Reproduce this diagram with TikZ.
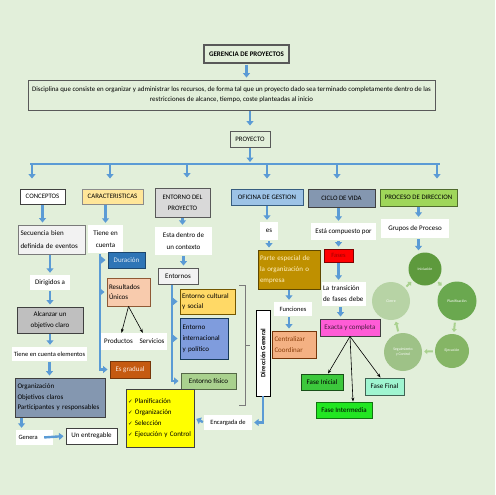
\documentclass[tikz,border=0pt]{standalone}
\usepackage{fontspec}
\setmainfont{Carlito}
\newfontfamily\checkfont{DejaVu Sans}
\usetikzlibrary{arrows.meta}

\definecolor{paper}{HTML}{E2EFDA}
\definecolor{flowblue}{HTML}{5B9BD5}
\definecolor{edge}{HTML}{595959}
\definecolor{darkedge}{HTML}{404040}
\definecolor{cLight}{HTML}{F2F2F2}
\definecolor{cMidgray}{HTML}{BFBFBF}
\definecolor{cSlate}{HTML}{8497B0}
\definecolor{cCream}{HTML}{FFE699}
\definecolor{cSilver}{HTML}{D9D9D9}
\definecolor{cSky}{HTML}{9DC3E6}
\definecolor{cLime}{HTML}{9FD65A}
\definecolor{cNavy}{HTML}{2E75B6}
\definecolor{cPeach}{HTML}{F8CBAD}
\definecolor{cRust}{HTML}{C55A11}
\definecolor{cGold}{HTML}{FFD966}
\definecolor{cCobalt}{HTML}{7F9CDD}
\definecolor{cSage}{HTML}{A9D18E}
\definecolor{cOchre}{HTML}{BF9000}
\definecolor{cApricot}{HTML}{F4B183}
\definecolor{cMagenta}{HTML}{FF5CD6}
\definecolor{cGreen}{HTML}{3CC83C}
\definecolor{cBright}{HTML}{22E622}
\definecolor{cAqua}{HTML}{9FF5D0}
\definecolor{cYellow}{HTML}{FFFF00}
\definecolor{cIni}{HTML}{5E9A3D}
\definecolor{cPla}{HTML}{6AA84F}
\definecolor{cEje}{HTML}{85B565}
\definecolor{cSeg}{HTML}{9EC287}
\definecolor{cCie}{HTML}{B7D3A5}

\tikzset{flow/.style={%
  -{Triangle[width=7pt,length=4.5pt]},
  line width=2.4pt,
  draw=flowblue,
  shorten <=1pt,
  shorten >=2pt,
  }
}
\tikzset{pipe/.style={%
  flow,
  -,
  shorten <=0pt,
  shorten >=0pt,
  }
}
\tikzset{thin arrow/.style={%
  -{Stealth[length=4pt,width=3pt]},
  line width=0.6pt,
  black,
  }
}
\tikzset{box/.style={%
  draw=edge,
  line width=0.9pt,
  inner sep=1.5pt,
  align=center,
  font=\fontsize{7}{11}\selectfont,
  }
}
\tikzset{note/.style={%
  fill=white,
  inner sep=1.5pt,
  align=center,
  font=\fontsize{7}{12.5}\selectfont,
  }
}
\tikzset{head/.style={box, font=\fontsize{6.8}{11}\selectfont}}
\tikzset{sz/.style 2 args={minimum width=#1pt, minimum height=#2pt}}
\tikzset{stage/.style={%
  circle,
  inner sep=0pt,
  text=white,
  align=center,
  font=\fontsize{3.8}{4.5}\selectfont,
  }
}
\tikzset{cycle arrow/.style={%
  -{Triangle[width=5pt,length=3pt]},
  line width=2pt,
  draw=cSage,
  shorten <=2pt,
  shorten >=2pt,
  }
}

\begin{document}
\begin{tikzpicture}[x=1pt,y=-1pt]
  \fill [paper] (0,0) rectangle (495,495);
  \useasboundingbox (0,0) rectangle (495,495);

  % top of the map
  \node (gerencia) [box, sz={85}{18}, line width=1.1pt, font=\bfseries\fontsize{7}{8}\selectfont] at (246.5,54) {GERENCIA DE PROYECTOS};
  \node (disciplina) [box, sz={407}{30}, font=\fontsize{6.9}{10}\selectfont] at (231.5,95) {Disciplina que consiste en organizar y administrar los recursos, de forma tal que un proyecto dado sea terminado completamente dentro de las\\restricciones de alcance, tiempo, coste planteadas al inicio};
  \node (proyecto) [box, sz={40}{16}, font=\fontsize{6.8}{8}\selectfont] at (250,139) {PROYECTO};

  \draw [flow] (gerencia.south) -- (gerencia.south |- disciplina.north);
  \draw [flow, shorten >=5pt] (proyecto.north |- disciplina.south) -- (proyecto.north);

  \coordinate (bar) at (250,164);
  \coordinate (barL) at (30,164);
  \coordinate (barR) at (440,164);
  \coordinate (dconc) at (32,164);
  \coordinate (dcar) at (110,164);
  \coordinate (dent) at (187,164);
  \coordinate (dofi) at (267,164);
  \coordinate (dcic) at (337,164);
  \coordinate (dpro) at (437,164);
  \draw [flow] (proyecto.south) -- (bar);
  \draw [pipe] (barL) -- (barR);

  % headers
  \node (concepts) [head, sz={45}{15}, fill=white, draw=darkedge] at (42.5,196.5) {CONCEPTOS};
  \node (caract) [head, sz={61}{15}, fill=cCream, draw=edge!70] at (112.5,196.5) {CARACTERISTICAS};
  \node (entorno) [head, sz={55}{29}, fill=cSilver] at (182.5,202.5) {ENTORNO DEL\\PROYECTO};
  \node (oficina) [head, sz={72}{16}, fill=cSky, draw=flowblue!60!black] at (267,197) {OFICINA DE GESTION};
  \node (ciclo) [head, sz={67}{18}, fill=cSlate, draw=darkedge] at (341.5,198) {CICLO DE VIDA};
  \node (proceso) [head, sz={77}{17}, fill=cLime, draw=cLime!50!black] at (418.5,197.5) {PROCESO DE DIRECCION};

  \foreach \d/\h in {dconc/concepts, dcar/caract, dent/entorno, dofi/oficina, dcic/ciclo, dpro/proceso}
    \draw [flow, shorten <=0pt, shorten >=10pt] (\d) -- (\d |- \h.north);

  % conceptos
  \node (secuencia) [box, sz={67}{29}, fill=cLight, draw=edge!80, text width=62pt, align=left, font=\fontsize{7}{12.5}\selectfont] at (51.5,239.5) {Secuencia bien\\definida de eventos};
  \node (dirigidos) [note, sz={40}{15}] at (50,282.5) {Dirigidos a};
  \node (alcanzar) [box, sz={66}{26}, fill=cMidgray, draw=darkedge, font=\fontsize{7}{10.5}\selectfont] at (50,320) {Alcanzar un\\objetivo claro};
  \node (elementos) [note, sz={71}{14}, font=\fontsize{6.5}{8}\selectfont] at (49.5,354) {Tiene en cuenta elementos};
  \node (organizacion) [box, sz={90}{39}, fill=cSlate, draw=darkedge, text width=85pt, align=left, font=\fontsize{7}{10.5}\selectfont] at (60,397.5) {Organización\\Objetivos claros\\Participantes y responsables};
  \node (genera) [note, sz={37}{15}, text width=32pt, align=left, font=\fontsize{6.5}{8}\selectfont] at (34.5,437.5) {Genera};
  \node (entregable) [box, sz={51}{16}, fill=white, draw=darkedge] at (91.5,436) {Un entregable};

  \draw [flow] (concepts.south) -- (concepts.south |- secuencia.north);
  \draw [flow] (dirigidos.north |- secuencia.south) -- (dirigidos.north);
  \draw [flow] (dirigidos.south) -- (dirigidos.south |- alcanzar.north);
  \draw [flow] (alcanzar.south) -- (alcanzar.south |- elementos.north);
  \draw [flow] (elementos.south) -- (elementos.south |- organizacion.north);
  \draw [flow] ([xshift=7pt]organizacion.south west) -- ([xshift=7pt]organizacion.south west |- genera.north);
  \draw [flow] ([xshift=-10pt]genera.east) -- (entregable.west);

  % caracteristicas
  \node (tiene) [note, sz={35}{28}] at (105.5,239) {Tiene en\\cuenta};
  \coordinate (cspine) at (100,253);
  \node (duracion) [box, sz={37}{16}, fill=cNavy, draw=cNavy!60!black, text=cNavy!15] at (126.5,260) {Duración};
  \node (resultados) [box, sz={43}{28}, fill=cPeach, draw=cRust!50!edge, text width=39pt, align=left, font=\fontsize{7}{10.5}\selectfont] at (128.5,292) {Resultados\\Únicos};
  \node (productos) [note, sz={37}{17}] at (118.5,341.5) {Productos};
  \node (servicios) [note, sz={30}{17}] at (152,341.5) {Servicios};
  \node (gradual) [box, sz={40}{17}, fill=cRust, draw=cRust!60!black, text=cPeach!40] at (130,369.5) {Es gradual};

  \draw [flow] (tiene.north |- caract.south) -- (tiene.north);
  \draw [flow] (cspine) |- (gradual.west);
  \draw [flow] (cspine |- duracion.west) -- (duracion.west);
  \draw [flow] (cspine |- resultados.west) -- (resultados.west);
  \draw [thin arrow] (resultados.south) -- ([xshift=3pt]productos.north);
  \draw [thin arrow] (resultados.south) -- ([xshift=6pt]servicios.north west);

  % entorno del proyecto
  \node (contexto) [note, sz={57}{28}] at (183.5,241) {Esta dentro de\\un contexto};
  \node (entornos) [box, sz={40}{16}, fill=cLight, draw=edge] at (178,276) {Entornos};
  \coordinate (espine) at (172,284);
  \node (cultural) [box, sz={55}{25}, fill=cGold, draw=cOchre!60!black, text width=51pt, align=left, font=\fontsize{7}{10.5}\selectfont] at (207.5,301.5) {Entorno cultural\\y social};
  \node (internacional) [box, sz={48}{41}, fill=cCobalt, draw=cNavy!50!black, text width=43pt, align=left, font=\fontsize{7}{11}\selectfont] at (204,338.5) {Entorno\\internacional\\y político};
  \node (fisico) [box, sz={55}{16}, fill=cSage, draw=cSage!50!black] at (208.5,381) {Entorno físico};

  \draw [flow] (entorno.south) -- (entorno.south |- contexto.north);
  \draw [flow] (contexto.south) -- (contexto.south |- entornos.north);
  \draw [flow] (espine) |- (fisico.west);
  \draw [flow] (espine |- cultural.west) -- (cultural.west);
  \draw [flow] (espine |- internacional.west) -- (internacional.west);

  % bracket towards Direccion General
  \draw [edge!80, line width=0.6pt] (239,285) -- (245,285) -- (245,405) -- (239,405) (245,345) -- (250,345);

  \node (dirgen) [box, rotate=90, sz={86}{14}, fill=white, draw=black, font=\bfseries\fontsize{6.6}{8}\selectfont] at (263,353) {Dirección General};
  \node (encargada) [note, sz={48}{15}, font=\fontsize{6.5}{8}\selectfont] at (228,422.5) {Encargada de};
  \node (tareas) [box, sz={68}{58}, fill=cYellow, draw=darkedge, text width=64pt, align=left] at (160,418) {{\checkfont\fontsize{5.5}{8}\selectfont ✓}\ Planificación\\{\checkfont\fontsize{5.5}{8}\selectfont ✓}\ Organización\\{\checkfont\fontsize{5.5}{8}\selectfont ✓}\ Selección\\{\checkfont\fontsize{5.5}{8}\selectfont ✓}\ Ejecución y Control};

  \draw [flow, shorten <=0pt] (dirgen.west) |- (encargada.east);
  \draw [flow] (encargada.west) -- (tareas.east);

  % oficina de gestion
  \node (es) [note, sz={18}{18}] at (269,231) {es};
  \node (parte) [box, sz={62}{39}, fill=cOchre, draw=cOchre!50!black, text=cCream!60, text width=58pt, align=left] at (289,269.5) {Parte especial de\\la organización o\\empresa};
  \node (funciones) [note, sz={38}{14}, font=\fontsize{6.5}{8}\selectfont] at (293,309) {Funciones};
  \node (centralizar) [box, sz={44}{27}, fill=cApricot, draw=cRust!60!black, text=cRust!70!black, text width=39pt, align=left, font=\fontsize{7}{10.5}\selectfont] at (294,344.5) {Centralizar\\Coordinar};

  \draw [flow] (oficina.south) -- (oficina.south |- es.north);
  \draw [flow] (es.south) -- (es.south |- parte.north);
  \draw [flow] (parte.south) -- (parte.south |- funciones.north);
  \draw [flow] (parte.south |- funciones.south) -- (parte.south |- centralizar.north);

  % ciclo de vida
  \node (compuesto) [note, sz={65}{17}] at (343.5,231.5) {Está compuesto por};
  \node (fases) [box, sz={29}{13}, fill=red, draw=red!50!black, text=red!60!black, font=\fontsize{6.5}{8}\selectfont] at (338.5,255.5) {Fases};
  \node (transicion) [note, sz={43}{24}, text width=41pt, align=left, font=\fontsize{7}{11}\selectfont] at (343.5,294) {La transición\\de fases debe};
  \node (exacta) [box, sz={60}{17}, fill=cMagenta, draw=darkedge, text=cMagenta!30!black] at (350,327.5) {Exacta y completa};
  \node (inicial) [box, sz={42}{16}, fill=cGreen, draw=cGreen!40!black] at (322,382) {Fase Inicial};
  \node (final) [box, sz={39}{17}, fill=cAqua, draw=cAqua!40!black] at (384.5,386.5) {Fase Final};
  \node (intermedia) [box, sz={56}{16}, fill=cBright, draw=cBright!50!black] at (344,410) {Fase Intermedia};

  \draw [flow] (fases.north |- ciclo.south) -- (fases.north |- compuesto.north);
  \draw [flow] (fases.north |- compuesto.south) -- (fases.north);
  \draw [flow] (fases.south) -- (fases.south |- transicion.north);
  \draw [flow] ([xshift=-3pt]transicion.south) -- ([xshift=-3pt]transicion.south |- exacta.north);
  \draw [thin arrow] (exacta.south) -- ([xshift=6pt]inicial.north);
  \draw [thin arrow] (exacta.south) -- ([xshift=9pt]intermedia.north);
  \draw [thin arrow] (exacta.south) -- ([xshift=-4pt]final.north);

  % proceso de direccion
  \node (grupos) [note, sz={68}{19}] at (415,228.5) {Grupos de Proceso};
  \node (iniciacion) [stage, fill=cIni, minimum size=33pt] at (425,269) {Iniciación};
  \node (planificacion) [stage, fill=cPla, minimum size=39pt] at (457,301) {Planificación};
  \node (ejecucion) [stage, fill=cEje, minimum size=34pt] at (452,351) {Ejecución};
  \node (seguimiento) [stage, fill=cSeg, minimum size=38pt] at (403,352) {Seguimiento\\y Control};
  \node (cierre) [stage, fill=cCie, minimum size=38pt] at (391,301) {Cierre};

  \draw [flow] (proceso.south) -- (proceso.south |- grupos.north);
  \draw [flow] (proceso.south |- grupos.south) -- (proceso.south |- iniciacion.north);
  \draw [cycle arrow] (iniciacion) -- (planificacion);
  \draw [cycle arrow] (planificacion) -- (ejecucion);
  \draw [cycle arrow] (ejecucion) -- (seguimiento);
  \draw [cycle arrow] (seguimiento) -- (cierre);
  \draw [cycle arrow] (cierre) -- (iniciacion);
\end{tikzpicture}
\end{document}
